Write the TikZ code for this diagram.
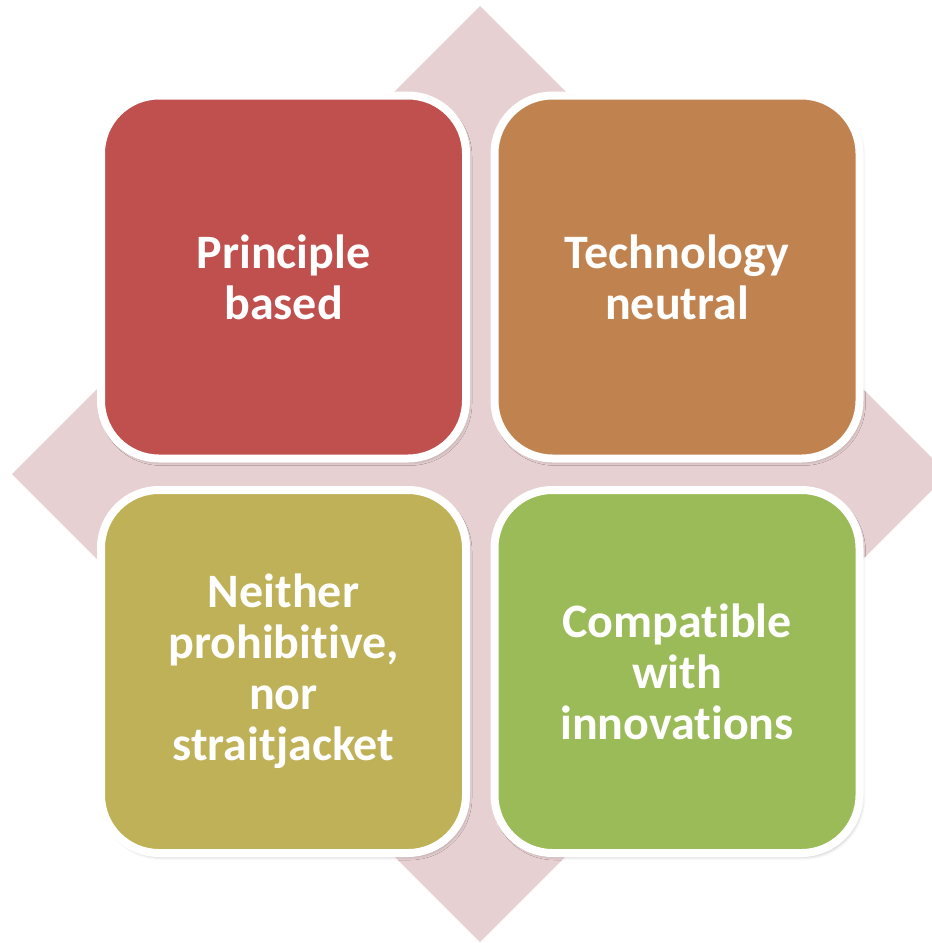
\documentclass[tikz,border=0pt]{standalone}
\usepackage{fontspec}
\setmainfont{Carlito}[Ligatures=NoCommon]
\usetikzlibrary{shadows.blur}

\definecolor{diamondpink}{HTML}{E7D0D2}
\definecolor{tilered}{HTML}{C0504D}
\definecolor{tileorange}{HTML}{C0834F}
\definecolor{tileolive}{HTML}{BFB157}
\definecolor{tilegreen}{HTML}{9BBB59}

\tikzset{
  tile/.style={draw=white, line width=8pt, rounded corners=58pt,
    minimum width=365pt, minimum height=363pt, inner sep=0pt,
    text=white, align=center,
    font=\fontsize{48}{51}\selectfont\bfseries,
    blur shadow={shadow xshift=2pt, shadow yshift=-3pt,
      shadow blur radius=4pt, shadow opacity=35}}
}

\begin{document}
\begin{tikzpicture}[x=1pt,y=-1pt]
\useasboundingbox (0,0) rectangle (932,943);
% background diamond
\fill[diamondpink] (480,6) -- (948,474) -- (480,942) -- (12,474) -- cycle;
% the four tiles
\node[tile, fill=tilered] (principle) at (283.5,277) {Principle\\based};
\node[tile, fill=tileorange] (neutral) at (677,277) {Technology\\neutral};
\node[tile, fill=tileolive] (neither) at (283.5,671.5) {Neither\\prohibitive,\\nor\\straitjacket};
\node[tile, fill=tilegreen] (compatible) at (677,671.5) {Compatible\\with\\innovations};
\end{tikzpicture}
\end{document}
